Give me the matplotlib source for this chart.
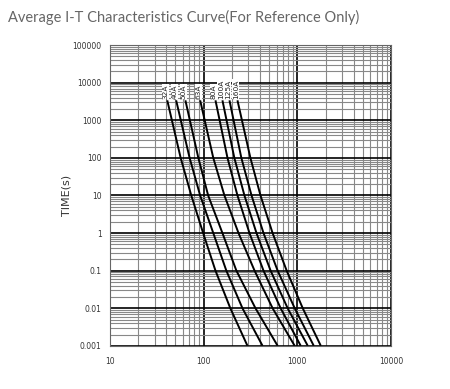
"""Average I-T characteristics curve (fuse time-current chart), log-log."""
import matplotlib
matplotlib.use("Agg")
import matplotlib.pyplot as plt
from matplotlib.ticker import FixedLocator, LogLocator, NullFormatter

TIMES = [3400, 100, 10, 1, 0.1, 0.01, 0.001]

RATINGS = ["32A", "40A", "50A", "63A", "80A", "100A", "125A", "160A"]
CURRENTS = {
    "32A":  [41, 57, 74, 99, 134, 193, 294],
    "40A":  [51, 71, 92, 127, 175, 260, 426],
    "50A":  [64, 88, 112, 159, 224, 358, 617],
    "63A":  [92, 127, 167, 236, 350, 545, 938],
    "80A":  [134, 180, 230, 309, 436, 664, 1088],
    "100A": [159, 213, 273, 367, 519, 789, 1293],
    "125A": [189, 253, 325, 436, 617, 938, 1499],
    "160A": [230, 316, 405, 545, 770, 1143, 1781],
}

X_TICKS = [10, 100, 1000, 10000]
X_TICK_LABELS = ["10", "100", "1000", "10000"]
Y_TICKS = [0.001, 0.01, 0.1, 1, 10, 100, 1000, 10000, 100000]
Y_TICK_LABELS = ["0.001", "0.01", "0.1", "1", "10", "100", "1000", "10000", "100000"]

fig = plt.figure(figsize=(4.5, 3.89), dpi=100)
ax = fig.add_axes([0.244, 0.111, 0.625, 0.773])

ax.set_xscale("log")
ax.set_yscale("log")
ax.set_xlim(10, 10000)
ax.set_ylim(0.001, 100000)

# grid: dark decade lines, grey minor lines
ax.xaxis.set_minor_locator(LogLocator(base=10, subs=range(2, 10)))
ax.yaxis.set_minor_locator(LogLocator(base=10, subs=range(2, 10), numticks=20))
ax.grid(which="major", color="black", linewidth=1.2)
ax.grid(which="minor", color="#888888", linewidth=0.8)
ax.set_axisbelow(True)

for r in RATINGS:
    ax.plot(CURRENTS[r], TIMES, color="black", linewidth=1.4, solid_capstyle="butt")

# rotated rating labels on a white strip above the curves
for r in RATINGS:
    ax.text(CURRENTS[r][0] * 0.96, 3700, r, rotation=90, ha="center", va="bottom",
            fontsize=5.4, color="#222222", zorder=5,
            family=["Liberation Sans Narrow", "DejaVu Sans"],
            bbox=dict(facecolor="white", edgecolor="none", pad=0.4))

ax.xaxis.set_major_locator(FixedLocator(X_TICKS))
ax.set_xticklabels(X_TICK_LABELS)
ax.yaxis.set_major_locator(FixedLocator(Y_TICKS))
ax.set_yticklabels(Y_TICK_LABELS)
ax.xaxis.set_minor_formatter(NullFormatter())
ax.yaxis.set_minor_formatter(NullFormatter())
ax.tick_params(which="both", length=0, labelsize=5.5, labelcolor="#333333")
ax.tick_params(axis="x", pad=8)
ax.tick_params(axis="y", pad=6)

for s in ax.spines.values():
    s.set_color("#666666")
    s.set_linewidth(0.8)

ax.set_ylabel("TIME(s)", fontsize=8, color="#333333")
ax.yaxis.set_label_coords(-0.135, 0.5)

fig.text(0.018, 0.955, "Average I-T Characteristics Curve(For Reference Only)",
         fontsize=10.5, color="#666666", ha="left", va="center", family="Lato")

fig.savefig("out.png", dpi=100)
